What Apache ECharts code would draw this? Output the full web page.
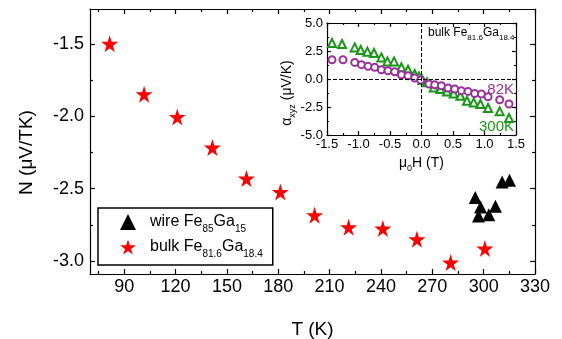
<!DOCTYPE html>
<html>
<head>
<meta charset="utf-8">
<script src="https://cdn.jsdelivr.net/npm/echarts@6/dist/echarts.min.js"></script>
<style>
  html, body { margin: 0; padding: 0; background: #fff; }
  #chart { width: 562px; height: 339px; }
</style>
</head>
<body>
<div id="chart"></div>
<script>
// main plot: bulk Fe81.6Ga18.4 (stars)
const bulkT = [81.5, 101.6, 121, 141.5, 161.4, 181.2, 201.2, 221.1, 241.1, 261.0, 280.7, 300.7]
const bulkN = [-1.50, -1.848, -2.005, -2.217, -2.431, -2.523, -2.684, -2.767, -2.776, -2.850, -3.011, -2.914]
// main plot: wire Fe85Ga15 (triangles)
const wireT = [295.1, 298.2, 297.0, 303.0, 306.9, 310.8, 315.1]
const wireN = [-2.562, -2.627, -2.689, -2.680, -2.622, -2.454, -2.443]

// inset: alpha_xyz vs mu0H
const h300 = [-1.421, -1.262, -1.060, -0.965, -0.859, -0.754, -0.637, -0.541, -0.436, -0.319, -0.214, -0.108, -0.040, 0.014, 0.087, 0.194, 0.300, 0.405, 0.511, 0.617, 0.722, 0.829, 0.935, 1.056, 1.241, 1.389]
const a300 = [3.21, 3.12, 2.82, 2.59, 2.44, 2.32, 1.93, 1.57, 1.57, 1.04, 0.83, 0.45, 0.23, -0.09, -0.30, -0.75, -0.89, -1.11, -1.29, -1.49, -1.94, -2.09, -2.23, -2.59, -2.89, -3.48]
const h82 = [-1.421, -1.246, -1.060, -0.954, -0.849, -0.743, -0.637, -0.532, -0.425, -0.319, -0.214, -0.108, -0.013, 0.119, 0.210, 0.316, 0.421, 0.527, 0.633, 0.738, 0.844, 0.951, 1.056, 1.241, 1.389]
const a82 = [1.72, 1.72, 1.48, 1.28, 1.13, 1.04, 0.83, 0.74, 0.65, 0.38, 0.29, 0.09, -0.09, -0.45, -0.51, -0.60, -0.80, -0.89, -1.04, -1.11, -1.29, -1.34, -1.58, -1.85, -2.23]

// tick values
const xMajor = [90, 120, 150, 180, 210, 240, 270, 300, 330]
const xMinor = [75, 105, 135, 165, 195, 225, 255, 285, 315]
const yMajor = [-3.0, -2.5, -2.0, -1.5]
const yMinor = [-2.75, -2.25, -1.75]

const FONT = 'Liberation Sans, Arial, sans-serif'
const PURPLE = '#993399'
const GREEN = '#1a961a'
const STAR = 'path://M50,0 L61,35 L98,35 L68,57 L79,91 L50,70 L21,91 L32,57 L2,35 L39,35 Z'

const line = {color: '#000', width: 1.2}
const zip = (a, b) => a.map((v, i) => [v, b[i]])

// one tick-only axis (no labels) for frames / minor ticks
function tickAxis(grid, pos, min, max, ticks, len, showLine) {
  return {
    type: 'value', gridIndex: grid, position: pos, min: min, max: max,
    axisLine: {show: showLine, onZero: false, lineStyle: line},
    axisTick: {show: true, inside: true, length: len, customValues: ticks, lineStyle: line},
    axisLabel: {show: false},
    splitLine: {show: false}
  }
}

const chart = echarts.init(document.getElementById('chart'))

const option = {
  animation: false,
  textStyle: {fontFamily: FONT},
  grid: [
    {left: 90, top: 9, right: 27, bottom: 65, outerBoundsMode: 'none'},
    {left: 327, top: 23, width: 189, height: 112, outerBoundsMode: 'none'}
  ],
  legend: {
    data: ['wire', 'bulk'],
    orient: 'vertical',
    left: 98, top: 208,
    borderColor: '#000', borderWidth: 1.5, borderRadius: 0,
    padding: [6, 10, 6, 22],
    itemGap: 5, itemWidth: 16, itemHeight: 16,
    formatter: function (name) {
      return name === 'wire'
        ? '{g|}{n|wire Fe}{s|85}{n|Ga}{s|15}'
        : '{g|}{n|bulk Fe}{s|81.6}{n|Ga}{s|18.4}'
    },
    textStyle: {
      color: '#000',
      rich: {
        g: {width: 9, fontSize: 16, lineHeight: 16},
        n: {fontSize: 16, lineHeight: 16, verticalAlign: 'top', fontFamily: FONT, color: '#000'},
        s: {fontSize: 10, lineHeight: 10, verticalAlign: 'top', padding: [10, 0, 0, 0], fontFamily: FONT, color: '#000'}
      }
    }
  },
  xAxis: [
    {
      type: 'value', gridIndex: 0, position: 'bottom', min: 70, max: 330,
      axisLine: {show: true, onZero: false, lineStyle: line},
      axisTick: {inside: true, length: 5, customValues: xMajor, lineStyle: line},
      axisLabel: {customValues: xMajor, fontSize: 18, color: '#000', margin: 4, fontFamily: FONT},
      splitLine: {show: false},
      name: 'T (K)', nameLocation: 'middle', nameGap: 46,
      nameTextStyle: {fontSize: 19, color: '#000', fontFamily: FONT}
    },
    tickAxis(0, 'bottom', 70, 330, xMinor, 3, false),
    tickAxis(0, 'top', 70, 330, xMajor, 5, true),
    tickAxis(0, 'top', 70, 330, xMinor, 3, false),
    {
      type: 'value', gridIndex: 1, position: 'bottom', min: -1.5, max: 1.5, interval: 0.5,
      axisLine: {show: true, onZero: false, lineStyle: line},
      axisTick: {inside: true, length: 4, lineStyle: line},
      minorTick: {show: true, splitNumber: 2, length: 2, lineStyle: line},
      axisLabel: {fontSize: 13, color: '#000', margin: 3, fontFamily: FONT,
        formatter: v => v.toFixed(1), showMinLabel: true, showMaxLabel: true},
      splitLine: {show: false},
      name: '{a|μ}{s|0}{a|H (T)}', nameLocation: 'middle', nameGap: 21,
      nameTextStyle: {
        rich: {
          a: {fontSize: 14, lineHeight: 14, verticalAlign: 'top', color: '#000', fontFamily: FONT},
          s: {fontSize: 9, lineHeight: 9, verticalAlign: 'top', padding: [8, 0, 0, 0], color: '#000', fontFamily: FONT}
        }
      }
    },
    {
      type: 'value', gridIndex: 1, position: 'top', min: -1.5, max: 1.5, interval: 0.5,
      axisLine: {show: true, onZero: false, lineStyle: line},
      axisTick: {inside: true, length: 4, lineStyle: line},
      minorTick: {show: true, splitNumber: 2, length: 2, lineStyle: line},
      axisLabel: {show: false}, splitLine: {show: false}
    }
  ],
  yAxis: [
    {
      type: 'value', gridIndex: 0, position: 'left', min: -3.09, max: -1.26,
      axisLine: {show: true, onZero: false, lineStyle: line},
      axisTick: {inside: true, length: 5, customValues: yMajor, lineStyle: line},
      axisLabel: {customValues: yMajor, fontSize: 18, color: '#000', margin: 6, fontFamily: FONT,
        formatter: v => v.toFixed(1)},
      splitLine: {show: false},
      name: '{a|N (μV/TK)}{p|}', nameLocation: 'middle', nameGap: 54,
      nameTextStyle: {
        rich: {
          a: {fontSize: 19, color: '#000', fontFamily: FONT},
          p: {width: 22, fontSize: 19}
        }
      }
    },
    tickAxis(0, 'left', -3.09, -1.26, yMinor, 3, false),
    tickAxis(0, 'right', -3.09, -1.26, yMajor, 5, true),
    tickAxis(0, 'right', -3.09, -1.26, yMinor, 3, false),
    {
      type: 'value', gridIndex: 1, position: 'left', min: -5, max: 5, interval: 2.5,
      axisLine: {show: true, onZero: false, lineStyle: line},
      axisTick: {inside: true, length: 4, lineStyle: line},
      minorTick: {show: true, splitNumber: 2, length: 2, lineStyle: line},
      axisLabel: {fontSize: 13, color: '#000', margin: 4, fontFamily: FONT,
        formatter: v => v.toFixed(1)},
      splitLine: {show: false},
      name: '{a|α}{s|xyz}{a| (μV/K)}', nameLocation: 'middle', nameGap: 30,
      nameTextStyle: {
        padding: [0, 28, 0, 0],
        rich: {
          a: {fontSize: 14, lineHeight: 14, verticalAlign: 'top', color: '#000', fontFamily: FONT},
          s: {fontSize: 9, lineHeight: 9, verticalAlign: 'top', padding: [8, 0, 0, 0], color: '#000', fontFamily: FONT}
        }
      }
    },
    {
      type: 'value', gridIndex: 1, position: 'right', min: -5, max: 5, interval: 2.5,
      axisLine: {show: true, onZero: false, lineStyle: line},
      axisTick: {inside: true, length: 4, lineStyle: line},
      minorTick: {show: true, splitNumber: 2, length: 2, lineStyle: line},
      axisLabel: {show: false}, splitLine: {show: false}
    }
  ],
  series: [
    {
      name: 'wire', type: 'scatter', xAxisIndex: 0, yAxisIndex: 0,
      symbol: 'triangle', symbolSize: 13,
      itemStyle: {color: '#000', opacity: 1},
      data: zip(wireT, wireN)
    },
    {
      name: 'bulk', type: 'scatter', xAxisIndex: 0, yAxisIndex: 0,
      symbol: STAR, symbolSize: 17,
      itemStyle: {color: '#ff0000', opacity: 1},
      data: zip(bulkT, bulkN)
    },
    {
      name: '300K', type: 'scatter', xAxisIndex: 4, yAxisIndex: 4,
      symbol: 'emptyTriangle', symbolSize: 8,
      itemStyle: {color: GREEN, borderColor: GREEN, borderWidth: 1, opacity: 1},
      data: zip(h300, a300),
      markLine: {
        silent: true, symbol: 'none', label: {show: false},
        lineStyle: {color: '#000', type: 'dashed', width: 1},
        data: [{xAxis: 0}, {yAxis: 0}]
      }
    },
    {
      name: '82K', type: 'scatter', xAxisIndex: 4, yAxisIndex: 4,
      symbol: 'emptyCircle', symbolSize: 7,
      itemStyle: {color: PURPLE, borderColor: PURPLE, borderWidth: 1, opacity: 1},
      data: zip(h82, a82)
    }
  ],
  graphic: [
    {
      type: 'text', x: 428, y: 27,
      style: {
        text: '{a|bulk Fe}{s|81.6}{a|Ga}{s|18.4}',
        rich: {
          a: {fontSize: 12, lineHeight: 12, verticalAlign: 'top', fill: '#000', fontFamily: FONT},
          s: {fontSize: 8, lineHeight: 8, verticalAlign: 'top', padding: [7, 0, 0, 0], fill: '#000', fontFamily: FONT}
        }
      }
    },
    {
      type: 'text', x: 514, y: 90,
      style: {text: '82K', fill: PURPLE, font: '15px ' + FONT, align: 'right', verticalAlign: 'middle'}
    },
    {
      type: 'text', x: 514, y: 127,
      style: {text: '300K', fill: GREEN, font: '15px ' + FONT, align: 'right', verticalAlign: 'middle'}
    }
  ]
}

chart.setOption(option)
</script>
</body>
</html>
